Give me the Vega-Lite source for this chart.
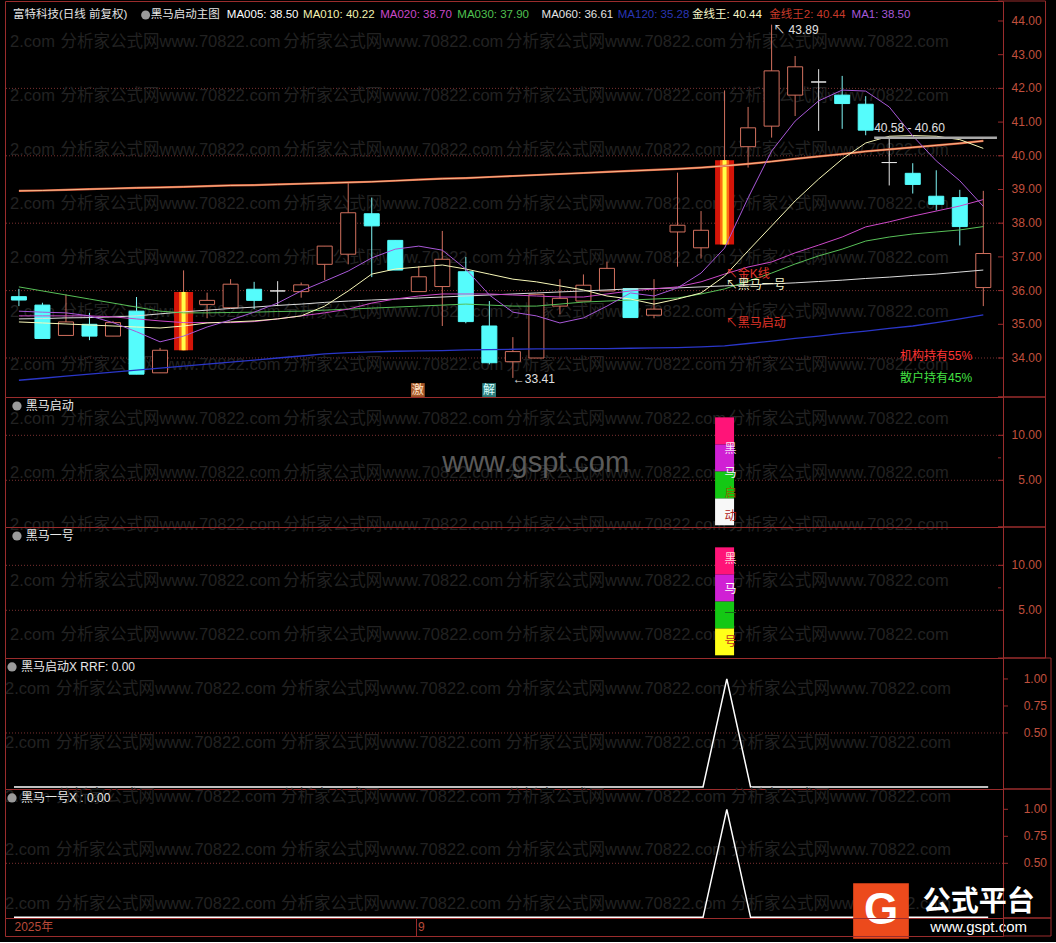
{
"$schema": "https://vega.github.io/schema/vega-lite/v6.json",
"background": "#000000",
"padding": {"left": 4, "top": 0, "right": 4, "bottom": 2},
"spacing": 0,
"bounds": "flush",
"resolve": {"scale": {"x": "independent", "y": "independent"}},
"config": {
  "view": {"stroke": "#9a2c2c", "strokeWidth": 1},
  "text": {"font": "Liberation Sans, Noto Sans CJK SC", "fontSize": 12, "baseline": "middle", "align": "left"}
},
"datasets": {
"k": [
{"i":1,"o":35.82,"h":36.05,"l":35.54,"c":35.72,"t":"down","m5":35.39,"m10":35.07,"m20":35.25,"m30":36.11,"m60":35.16,"m120":33.34,"g":38.96,"s":0},
{"i":2,"o":35.57,"h":35.64,"l":34.58,"c":34.58,"t":"down","m5":35.36,"m10":35.04,"m20":35.25,"m30":35.99,"m60":35.17,"m120":33.40,"g":38.97,"s":0},
{"i":3,"o":34.67,"h":35.89,"l":34.67,"c":35.07,"t":"up","m5":35.34,"m10":35.01,"m20":35.25,"m30":35.87,"m60":35.19,"m120":33.46,"g":38.99,"s":0},
{"i":4,"o":35.00,"h":35.34,"l":34.53,"c":34.65,"t":"down","m5":35.25,"m10":34.98,"m20":35.25,"m30":35.75,"m60":35.20,"m120":33.52,"g":39.01,"s":0},
{"i":5,"o":34.65,"h":35.10,"l":34.65,"c":35.05,"t":"up","m5":35.05,"m10":34.95,"m20":35.22,"m30":35.63,"m60":35.22,"m120":33.58,"g":39.03,"s":0},
{"i":6,"o":35.39,"h":35.81,"l":33.52,"c":33.52,"t":"down","m5":34.78,"m10":34.92,"m20":35.16,"m30":35.51,"m60":35.25,"m120":33.64,"g":39.05,"s":0},
{"i":7,"o":33.56,"h":34.30,"l":33.56,"c":34.23,"t":"up","m5":34.48,"m10":34.89,"m20":35.10,"m30":35.39,"m60":35.31,"m120":33.70,"g":39.06,"s":0},
{"i":8,"o":34.23,"h":36.60,"l":34.23,"c":35.96,"t":"star","m5":34.65,"m10":34.95,"m20":35.05,"m30":35.34,"m60":35.37,"m120":33.76,"g":39.08,"s":0},
{"i":9,"o":35.59,"h":35.94,"l":35.18,"c":35.71,"t":"up","m5":34.92,"m10":35.04,"m20":35.05,"m30":35.34,"m60":35.42,"m120":33.82,"g":39.10,"s":0},
{"i":10,"o":35.49,"h":36.34,"l":35.49,"c":36.19,"t":"up","m5":35.13,"m10":35.07,"m20":35.05,"m30":35.35,"m60":35.47,"m120":33.88,"g":39.12,"s":0},
{"i":11,"o":36.04,"h":36.26,"l":35.45,"c":35.71,"t":"down","m5":35.36,"m10":35.10,"m20":35.08,"m30":35.36,"m60":35.51,"m120":33.94,"g":39.13,"s":0},
{"i":12,"o":35.99,"h":36.28,"l":35.54,"c":35.99,"t":"doji","m5":35.63,"m10":35.16,"m20":35.16,"m30":35.38,"m60":35.56,"m120":34.00,"g":39.15,"s":0},
{"i":13,"o":35.97,"h":36.24,"l":35.79,"c":36.17,"t":"up","m5":35.99,"m10":35.25,"m20":35.25,"m30":35.39,"m60":35.60,"m120":34.06,"g":39.17,"s":0},
{"i":14,"o":36.78,"h":37.32,"l":36.31,"c":37.32,"t":"up","m5":36.28,"m10":35.54,"m20":35.34,"m30":35.42,"m60":35.65,"m120":34.12,"g":39.19,"s":0},
{"i":15,"o":37.08,"h":39.20,"l":36.78,"c":38.31,"t":"up","m5":36.58,"m10":35.99,"m20":35.45,"m30":35.45,"m60":35.69,"m120":34.16,"g":39.21,"s":0},
{"i":16,"o":38.28,"h":38.76,"l":36.40,"c":37.92,"t":"down","m5":36.97,"m10":36.49,"m20":35.63,"m30":35.48,"m60":35.72,"m120":34.18,"g":39.23,"s":0},
{"i":17,"o":37.49,"h":37.49,"l":36.61,"c":36.61,"t":"down","m5":37.23,"m10":36.64,"m20":35.75,"m30":35.51,"m60":35.75,"m120":34.20,"g":39.26,"s":0},
{"i":18,"o":35.97,"h":36.73,"l":35.97,"c":36.41,"t":"up","m5":37.32,"m10":36.70,"m20":35.84,"m30":35.54,"m60":35.78,"m120":34.21,"g":39.29,"s":0},
{"i":19,"o":36.12,"h":37.77,"l":34.95,"c":36.93,"t":"up","m5":37.20,"m10":36.76,"m20":35.90,"m30":35.57,"m60":35.81,"m120":34.22,"g":39.32,"s":0},
{"i":20,"o":36.56,"h":37.00,"l":35.03,"c":35.08,"t":"down","m5":36.64,"m10":36.64,"m20":35.90,"m30":35.60,"m60":35.84,"m120":34.24,"g":39.34,"s":0},
{"i":21,"o":34.95,"h":35.69,"l":33.81,"c":33.86,"t":"down","m5":35.87,"m10":36.49,"m20":35.90,"m30":35.57,"m60":35.87,"m120":34.25,"g":39.37,"s":0},
{"i":22,"o":33.89,"h":34.62,"l":33.41,"c":34.19,"t":"up","m5":35.36,"m10":36.34,"m20":35.87,"m30":35.54,"m60":35.90,"m120":34.26,"g":39.40,"s":0},
{"i":23,"o":34.00,"h":35.89,"l":34.00,"c":35.89,"t":"up","m5":35.25,"m10":36.26,"m20":35.84,"m30":35.54,"m60":35.93,"m120":34.27,"g":39.43,"s":0},
{"i":24,"o":35.54,"h":36.34,"l":35.30,"c":35.77,"t":"up","m5":35.04,"m10":36.14,"m20":35.81,"m30":35.60,"m60":35.96,"m120":34.27,"g":39.46,"s":0},
{"i":25,"o":35.69,"h":36.48,"l":35.69,"c":36.16,"t":"up","m5":35.19,"m10":36.02,"m20":35.81,"m30":35.66,"m60":35.99,"m120":34.28,"g":39.49,"s":0},
{"i":26,"o":35.99,"h":36.86,"l":35.99,"c":36.66,"t":"up","m5":35.54,"m10":35.84,"m20":35.90,"m30":35.69,"m60":36.02,"m120":34.28,"g":39.52,"s":0},
{"i":27,"o":36.06,"h":36.06,"l":35.20,"c":35.20,"t":"down","m5":35.93,"m10":35.75,"m20":35.99,"m30":35.72,"m60":36.05,"m120":34.29,"g":39.55,"s":0},
{"i":28,"o":35.27,"h":36.34,"l":35.18,"c":35.45,"t":"up","m5":35.84,"m10":35.60,"m20":36.05,"m30":35.75,"m60":36.06,"m120":34.30,"g":39.58,"s":0},
{"i":29,"o":37.74,"h":39.50,"l":36.71,"c":37.94,"t":"up","m5":36.08,"m10":35.75,"m20":36.11,"m30":35.78,"m60":36.08,"m120":34.31,"g":39.61,"s":0},
{"i":30,"o":37.27,"h":38.36,"l":36.95,"c":37.79,"t":"up","m5":36.52,"m10":35.93,"m20":36.26,"m30":35.90,"m60":36.11,"m120":34.33,"g":39.65,"s":0},
{"i":31,"o":37.37,"h":41.94,"l":37.37,"c":39.87,"t":"star","m5":37.26,"m10":36.43,"m20":36.49,"m30":36.05,"m60":36.14,"m120":34.36,"g":39.70,"s":1},
{"i":32,"o":40.27,"h":41.45,"l":39.65,"c":40.83,"t":"up","m5":38.75,"m10":37.18,"m20":36.70,"m30":36.28,"m60":36.17,"m120":34.43,"g":39.76,"s":0},
{"i":33,"o":40.88,"h":43.89,"l":40.54,"c":42.52,"t":"up","m5":40.14,"m10":37.92,"m20":36.85,"m30":36.52,"m60":36.20,"m120":34.50,"g":39.83,"s":0},
{"i":34,"o":41.80,"h":42.96,"l":41.18,"c":42.64,"t":"up","m5":41.03,"m10":38.66,"m20":37.12,"m30":36.79,"m60":36.23,"m120":34.58,"g":39.91,"s":0},
{"i":35,"o":42.19,"h":42.57,"l":40.74,"c":42.19,"t":"doji","m5":41.63,"m10":39.31,"m20":37.35,"m30":37.03,"m60":36.27,"m120":34.65,"g":39.98,"s":0},
{"i":36,"o":41.80,"h":42.37,"l":40.80,"c":41.55,"t":"down","m5":41.95,"m10":39.90,"m20":37.59,"m30":37.23,"m60":36.31,"m120":34.73,"g":40.05,"s":0},
{"i":37,"o":41.53,"h":41.77,"l":40.61,"c":40.76,"t":"down","m5":41.92,"m10":40.38,"m20":37.89,"m30":37.47,"m60":36.36,"m120":34.80,"g":40.13,"s":0},
{"i":38,"o":39.80,"h":40.54,"l":39.12,"c":39.80,"t":"doji","m5":41.45,"m10":40.58,"m20":38.04,"m30":37.59,"m60":36.40,"m120":34.88,"g":40.19,"s":0},
{"i":39,"o":39.48,"h":39.78,"l":38.88,"c":39.15,"t":"down","m5":40.59,"m10":40.60,"m20":38.21,"m30":37.68,"m60":36.45,"m120":34.95,"g":40.25,"s":0},
{"i":40,"o":38.80,"h":39.57,"l":38.38,"c":38.56,"t":"down","m5":39.85,"m10":40.58,"m20":38.36,"m30":37.74,"m60":36.49,"m120":35.05,"g":40.31,"s":0},
{"i":41,"o":38.76,"h":38.99,"l":37.34,"c":37.90,"t":"down","m5":39.26,"m10":40.48,"m20":38.51,"m30":37.80,"m60":36.55,"m120":35.16,"g":40.37,"s":0},
{"i":42,"o":36.09,"h":38.96,"l":35.54,"c":37.10,"t":"up","m5":38.50,"m10":40.22,"m20":38.70,"m30":37.90,"m60":36.61,"m120":35.28,"g":40.44,"s":0}
]
},
"vconcat": [
{
 "width": 998, "height": 396,
 "resolve": {"scale": {"color": "independent", "fill": "independent", "stroke": "independent"}},
 "layer": [
  {"data": {"values": [{"v":34},{"v":36},{"v":38},{"v":40},{"v":42}]},
   "mark": {"type": "rule", "color": "#7a3030", "strokeDash": [1,2], "strokeWidth": 1},
   "encoding": {"y": {"field": "v", "type": "quantitative", "scale": {"domain": [32.843,44.593], "nice": false, "zero": false}, "axis": null}}},
  {"data": {"values": [
    {"v":43.376,"i":[0.6212,2.768,12.238,21.708,31.177]},{"v":41.777,"i":[0.6212,2.768,12.238,21.708,31.177]},{"v":40.178,"i":[0.6212,2.768,12.238,21.708,31.177]},{"v":38.578,"i":[0.6212,2.768,12.238,21.708,31.177]},{"v":36.979,"i":[0.6212,2.768,12.238,21.708,31.177]},{"v":35.379,"i":[0.6212,2.768,12.238,21.708,31.177]},{"v":33.780,"i":[0.6212,2.768,12.238,21.708,31.177]}]},
   "transform": [{"flatten": ["i"]}],
   "mark": {"type": "text", "fontSize": 16.5, "color": "#222222"},
   "encoding": {"x": {"field": "i", "type": "quantitative", "axis": null, "scale": {"domain": [0.6212,42.6246], "nice": false, "zero": false}},
    "y": {"field": "v", "type": "quantitative", "scale": {"domain": [32.843,44.593], "nice": false, "zero": false}, "axis": null},
    "text": {"condition": {"test": "datum.i < 1", "value": "2.com"}, "value": "分析家公式网www.70822.com"}}},
  {"data": {"values": [{"a":42.6246,"b":42.835,"v":34},{"a":42.6246,"b":42.835,"v":35},{"a":42.6246,"b":42.835,"v":36},{"a":42.6246,"b":42.835,"v":37},{"a":42.6246,"b":42.835,"v":38},{"a":42.6246,"b":42.835,"v":39},{"a":42.6246,"b":42.835,"v":40},{"a":42.6246,"b":42.835,"v":41},{"a":42.6246,"b":42.835,"v":42},{"a":42.6246,"b":42.835,"v":43},{"a":42.6246,"b":42.835,"v":44}]},
   "mark": {"type": "rule", "color": "#9a2c2c", "strokeWidth": 1},
   "encoding": {"x": {"field": "a", "type": "quantitative", "axis": null, "scale": {"domain": [0.6212,42.6246], "nice": false, "zero": false}}, "x2": {"field": "b"},
    "y": {"field": "v", "type": "quantitative", "scale": {"domain": [32.843,44.593], "nice": false, "zero": false}, "axis": null}}},
  {"data": {"values": [{"a":42.6246,"b":44.645,"y1":44.593,"y2":44.593},{"a":42.6246,"b":44.645,"y1":32.843,"y2":32.843},{"a":44.645,"b":44.645,"y1":32.843,"y2":44.593}]},
   "mark": {"type": "rule", "color": "#9a2c2c", "strokeWidth": 1},
   "encoding": {"x": {"field": "a", "type": "quantitative", "axis": null, "scale": {"domain": [0.6212,42.6246], "nice": false, "zero": false}}, "x2": {"field": "b"},
    "y": {"field": "y1", "type": "quantitative", "scale": {"domain": [32.843,44.593], "nice": false, "zero": false}, "axis": null}, "y2": {"field": "y2"}}},
  {"data": {"values": [{"i":44.477,"v":34,"text":"34.00"},{"i":44.477,"v":35,"text":"35.00"},{"i":44.477,"v":36,"text":"36.00"},{"i":44.477,"v":37,"text":"37.00"},{"i":44.477,"v":38,"text":"38.00"},{"i":44.477,"v":39,"text":"39.00"},{"i":44.477,"v":40,"text":"40.00"},{"i":44.477,"v":41,"text":"41.00"},{"i":44.477,"v":42,"text":"42.00"},{"i":44.477,"v":43,"text":"43.00"},{"i":44.477,"v":44,"text":"44.00"}]},
   "mark": {"type": "text", "align": "right", "font": "Liberation Sans", "fontSize": 12, "color": "#c0503e"},
   "encoding": {"x": {"field": "i", "type": "quantitative", "axis": null, "scale": {"domain": [0.6212,42.6246], "nice": false, "zero": false}},
    "y": {"field": "v", "type": "quantitative", "scale": {"domain": [32.843,44.593], "nice": false, "zero": false}, "axis": null}, "text": {"field": "text"}}},
  {"data": {"name": "k"},
   "mark": {"type": "rule", "strokeWidth": 1},
   "encoding": {"x": {"field": "i", "type": "quantitative", "axis": null, "scale": {"domain": [0.6212,42.6246], "nice": false, "zero": false}},
    "y": {"field": "l", "type": "quantitative", "scale": {"domain": [32.843,44.593], "nice": false, "zero": false}, "axis": null}, "y2": {"field": "h"},
    "color": {"field": "t", "type": "nominal", "scale": {"domain": ["up","down","doji","star"], "range": ["#d2705e","#7ff4f4","#e4e4e4","#d2705e"]}, "legend": null}}},
  {"data": {"name": "k"},
   "transform": [{"filter": "datum.t != 'star'"}],
   "mark": {"type": "bar", "width": 15, "strokeWidth": 1},
   "encoding": {"x": {"field": "i", "type": "quantitative", "axis": null, "scale": {"domain": [0.6212,42.6246], "nice": false, "zero": false}},
    "y": {"field": "o", "type": "quantitative", "stack": null, "scale": {"domain": [32.843,44.593], "nice": false, "zero": false}, "axis": null}, "y2": {"field": "c"},
    "fill": {"field": "t", "type": "nominal", "scale": {"domain": ["up","down","doji"], "range": ["#000000","#55fcfc","#e4e4e4"]}, "legend": null},
    "stroke": {"field": "t", "type": "nominal", "scale": {"domain": ["up","down","doji"], "range": ["#d2705e","#55fcfc","#e4e4e4"]}, "legend": null}}},
  {"data": {"name": "k"},
   "transform": [{"filter": "datum.t == 'star'"}],
   "mark": {"type": "bar", "width": 19, "color": "#d41408"},
   "encoding": {"x": {"field": "i", "type": "quantitative", "axis": null, "scale": {"domain": [0.6212,42.6246], "nice": false, "zero": false}},
    "y": {"field": "o", "type": "quantitative", "stack": null, "scale": {"domain": [32.843,44.593], "nice": false, "zero": false}, "axis": null}, "y2": {"field": "c"}}},
  {"data": {"name": "k"},
   "transform": [{"filter": "datum.t == 'star'"}],
   "mark": {"type": "bar", "width": 9, "color": "#ff6a14"},
   "encoding": {"x": {"field": "i", "type": "quantitative", "axis": null, "scale": {"domain": [0.6212,42.6246], "nice": false, "zero": false}},
    "y": {"field": "o", "type": "quantitative", "stack": null, "scale": {"domain": [32.843,44.593], "nice": false, "zero": false}, "axis": null}, "y2": {"field": "c"}}},
  {"data": {"name": "k"},
   "transform": [{"filter": "datum.t == 'star'"}],
   "mark": {"type": "bar", "width": 4, "color": "#ffff48"},
   "encoding": {"x": {"field": "i", "type": "quantitative", "axis": null, "scale": {"domain": [0.6212,42.6246], "nice": false, "zero": false}},
    "y": {"field": "o", "type": "quantitative", "stack": null, "scale": {"domain": [32.843,44.593], "nice": false, "zero": false}, "axis": null}, "y2": {"field": "c"}}},
  {"data": {"name": "k"}, "mark": {"type": "line", "color": "#2a36c8", "strokeWidth": 1.3},
   "encoding": {"x": {"field": "i", "type": "quantitative", "axis": null, "scale": {"domain": [0.6212,42.6246], "nice": false, "zero": false}},
    "y": {"field": "m120", "type": "quantitative", "scale": {"domain": [32.843,44.593], "nice": false, "zero": false}, "axis": null}}},
  {"data": {"name": "k"}, "mark": {"type": "line", "color": "#d85a3a", "strokeWidth": 2.2},
   "encoding": {"x": {"field": "i", "type": "quantitative", "axis": null, "scale": {"domain": [0.6212,42.6246], "nice": false, "zero": false}},
    "y": {"field": "g", "type": "quantitative", "scale": {"domain": [32.843,44.593], "nice": false, "zero": false}, "axis": null}}},
  {"data": {"name": "k"}, "mark": {"type": "line", "color": "#ffd0a0", "strokeWidth": 0.8},
   "encoding": {"x": {"field": "i", "type": "quantitative", "axis": null, "scale": {"domain": [0.6212,42.6246], "nice": false, "zero": false}},
    "y": {"field": "g", "type": "quantitative", "scale": {"domain": [32.843,44.593], "nice": false, "zero": false}, "axis": null}}},
  {"data": {"name": "k"}, "mark": {"type": "line", "color": "#dcdcdc", "strokeWidth": 1},
   "encoding": {"x": {"field": "i", "type": "quantitative", "axis": null, "scale": {"domain": [0.6212,42.6246], "nice": false, "zero": false}},
    "y": {"field": "m60", "type": "quantitative", "scale": {"domain": [32.843,44.593], "nice": false, "zero": false}, "axis": null}}},
  {"data": {"name": "k"}, "mark": {"type": "line", "color": "#58c058", "strokeWidth": 1},
   "encoding": {"x": {"field": "i", "type": "quantitative", "axis": null, "scale": {"domain": [0.6212,42.6246], "nice": false, "zero": false}},
    "y": {"field": "m30", "type": "quantitative", "scale": {"domain": [32.843,44.593], "nice": false, "zero": false}, "axis": null}}},
  {"data": {"name": "k"}, "mark": {"type": "line", "color": "#cc48c8", "strokeWidth": 1},
   "encoding": {"x": {"field": "i", "type": "quantitative", "axis": null, "scale": {"domain": [0.6212,42.6246], "nice": false, "zero": false}},
    "y": {"field": "m20", "type": "quantitative", "scale": {"domain": [32.843,44.593], "nice": false, "zero": false}, "axis": null}}},
  {"data": {"name": "k"}, "mark": {"type": "line", "color": "#f8f8b8", "strokeWidth": 1},
   "encoding": {"x": {"field": "i", "type": "quantitative", "axis": null, "scale": {"domain": [0.6212,42.6246], "nice": false, "zero": false}},
    "y": {"field": "m10", "type": "quantitative", "scale": {"domain": [32.843,44.593], "nice": false, "zero": false}, "axis": null}}},
  {"data": {"name": "k"}, "mark": {"type": "line", "color": "#a858d8", "strokeWidth": 1},
   "encoding": {"x": {"field": "i", "type": "quantitative", "axis": null, "scale": {"domain": [0.6212,42.6246], "nice": false, "zero": false}},
    "y": {"field": "m5", "type": "quantitative", "scale": {"domain": [32.843,44.593], "nice": false, "zero": false}, "axis": null}}},
  {"data": {"values": [{"a":37.36,"b":42.58,"v":40.537}]},
   "mark": {"type": "rule", "color": "#a8a8a8", "strokeWidth": 2.5},
   "encoding": {"x": {"field": "a", "type": "quantitative", "axis": null, "scale": {"domain": [0.6212,42.6246], "nice": false, "zero": false}}, "x2": {"field": "b"},
    "y": {"field": "v", "type": "quantitative", "scale": {"domain": [32.843,44.593], "nice": false, "zero": false}, "axis": null}}},
  {"data": {"values": [{"i":17.96,"v":33.05,"key":"ji","text":"激"},{"i":20.99,"v":33.05,"key":"jie","text":"解"}]},
   "mark": {"type": "point", "shape": "square", "filled": true, "size": 190, "opacity": 1},
   "encoding": {"x": {"field": "i", "type": "quantitative", "axis": null, "scale": {"domain": [0.6212,42.6246], "nice": false, "zero": false}},
    "y": {"field": "v", "type": "quantitative", "scale": {"domain": [32.843,44.593], "nice": false, "zero": false}, "axis": null},
    "color": {"field": "key", "type": "nominal", "scale": {"domain": ["ji","jie"], "range": ["#a8582a","#2c7c7c"]}, "legend": null}}},
  {"data": {"values": [{"i":17.96,"v":33.05,"key":"ji","text":"激"},{"i":20.99,"v":33.05,"key":"jie","text":"解"}]},
   "mark": {"type": "text", "align": "center", "fontSize": 12},
   "encoding": {"x": {"field": "i", "type": "quantitative", "axis": null, "scale": {"domain": [0.6212,42.6246], "nice": false, "zero": false}},
    "y": {"field": "v", "type": "quantitative", "scale": {"domain": [32.843,44.593], "nice": false, "zero": false}, "axis": null},
    "text": {"field": "text"},
    "color": {"field": "key", "type": "nominal", "scale": {"domain": ["ji","jie"], "range": ["#ffe4c8","#d8ffff"]}, "legend": null}}},
  {"data": {"values": [
    {"i":0.747,"v":44.177,"key":"t0","text":"富特科技(日线 前复权)"},
    {"i":6.60,"v":44.177,"key":"t0","text":"黑马启动主图"},
    {"i":9.84,"v":44.177,"key":"ma5","text":"MA005: 38.50"},
    {"i":13.08,"v":44.177,"key":"ma10","text":"MA010: 40.22"},
    {"i":16.36,"v":44.177,"key":"ma20","text":"MA020: 38.70"},
    {"i":19.64,"v":44.177,"key":"ma30","text":"MA030: 37.90"},
    {"i":23.22,"v":44.177,"key":"ma60","text":"MA060: 36.61"},
    {"i":26.46,"v":44.177,"key":"ma120","text":"MA120: 35.28"},
    {"i":29.62,"v":44.177,"key":"g1","text":"金线王: 40.44"},
    {"i":32.90,"v":44.177,"key":"g2","text":"金线王2: 40.44"},
    {"i":36.40,"v":44.177,"key":"ma1","text":"MA1: 38.50"}
   ]},
   "mark": {"type": "text", "fontSize": 11.5},
   "encoding": {"x": {"field": "i", "type": "quantitative", "axis": null, "scale": {"domain": [0.6212,42.6246], "nice": false, "zero": false}},
    "y": {"field": "v", "type": "quantitative", "scale": {"domain": [32.843,44.593], "nice": false, "zero": false}, "axis": null},
    "text": {"field": "text"},
    "color": {"field": "key", "type": "nominal", "scale": {"domain": ["t0","ma5","ma10","ma20","ma30","ma60","ma120","g1","g2","ma1"], "range": ["#e4e4e4","#ffffff","#f2f2b0","#c848c8","#50c050","#e4e4e4","#2a36b4","#f8f8c8","#c83a2a","#a658d8"]}, "legend": null}}},
  {"data": {"values": [
    {"i":33.07,"v":43.733,"key":"wt","text":"↖ 43.89"},
    {"i":22.0,"v":33.376,"key":"wt","text":"←33.41"},
    {"i":37.36,"v":40.825,"key":"wt","text":"40.58 - 40.60"},
    {"i":31.05,"v":36.49,"key":"red","text":"↖金K线"},
    {"i":31.05,"v":36.166,"key":"wy","text":"↖黑马一号"},
    {"i":31.05,"v":35.038,"key":"red","text":"↖黑马启动"},
    {"i":38.46,"v":34.06,"key":"red2","text":"机构持有55%"},
    {"i":38.46,"v":33.41,"key":"grn","text":"散户持有45%"}
   ]},
   "mark": {"type": "text", "fontSize": 12},
   "encoding": {"x": {"field": "i", "type": "quantitative", "axis": null, "scale": {"domain": [0.6212,42.6246], "nice": false, "zero": false}},
    "y": {"field": "v", "type": "quantitative", "scale": {"domain": [32.843,44.593], "nice": false, "zero": false}, "axis": null},
    "text": {"field": "text"},
    "color": {"field": "key", "type": "nominal", "scale": {"domain": ["wt","red","wy","red2","grn"], "range": ["#e0e0e0","#e0342a","#f4f4cc","#ff3434","#44e044"]}, "legend": null}}},
  {"data": {"values": [{"i":6.387,"v":44.177}]},
   "mark": {"type": "point", "shape": "circle", "filled": true, "size": 80, "color": "#9a9a9a", "opacity": 1},
   "encoding": {"x": {"field": "i", "type": "quantitative", "axis": null, "scale": {"domain": [0.6212,42.6246], "nice": false, "zero": false}},
    "y": {"field": "v", "type": "quantitative", "scale": {"domain": [32.843,44.593], "nice": false, "zero": false}, "axis": null}}}
 ]
},
{
 "width": 998, "height": 130,
 "resolve": {"scale": {"color": "independent"}},
 "layer": [
  {"data": {"values": [{"v":5},{"v":10}]},
   "mark": {"type": "rule", "color": "#7a3030", "strokeDash": [1,2], "strokeWidth": 1},
   "encoding": {"y": {"field": "v", "type": "quantitative", "scale": {"domain": [-0.19,14.26], "nice": false, "zero": false}, "axis": null}}},
  {"data": {"values": [{"v":11.782,"i":[0.6212,2.768,12.238,21.708,31.177]},{"v":5.793,"i":[0.6212,2.768,12.238,21.708,31.177]},{"v":0.038,"i":[0.6212,2.768,12.238,21.708,31.177]}]},
   "transform": [{"flatten": ["i"]}],
   "mark": {"type": "text", "fontSize": 16.5, "color": "#222222"},
   "encoding": {"x": {"field": "i", "type": "quantitative", "axis": null, "scale": {"domain": [0.6212,42.6246], "nice": false, "zero": false}},
    "y": {"field": "v", "type": "quantitative", "scale": {"domain": [-0.19,14.26], "nice": false, "zero": false}, "axis": null},
    "text": {"condition": {"test": "datum.i < 1", "value": "2.com"}, "value": "分析家公式网www.70822.com"}}},
  {"data": {"values": [{"a":42.6246,"b":42.835,"v":5},{"a":42.6246,"b":42.75,"v":7.5},{"a":42.6246,"b":42.835,"v":10}]},
   "mark": {"type": "rule", "color": "#9a2c2c", "strokeWidth": 1},
   "encoding": {"x": {"field": "a", "type": "quantitative", "axis": null, "scale": {"domain": [0.6212,42.6246], "nice": false, "zero": false}}, "x2": {"field": "b"},
    "y": {"field": "v", "type": "quantitative", "scale": {"domain": [-0.19,14.26], "nice": false, "zero": false}, "axis": null}}},
  {"data": {"values": [{"a":42.6246,"b":44.645,"y1":14.26,"y2":14.26},{"a":42.6246,"b":44.645,"y1":-0.19,"y2":-0.19},{"a":44.645,"b":44.645,"y1":-0.19,"y2":14.26}]},
   "mark": {"type": "rule", "color": "#9a2c2c", "strokeWidth": 1},
   "encoding": {"x": {"field": "a", "type": "quantitative", "axis": null, "scale": {"domain": [0.6212,42.6246], "nice": false, "zero": false}}, "x2": {"field": "b"},
    "y": {"field": "y1", "type": "quantitative", "scale": {"domain": [-0.19,14.26], "nice": false, "zero": false}, "axis": null}, "y2": {"field": "y2"}}},
  {"data": {"values": [{"i":44.477,"v":5,"text":"5.00"},{"i":44.477,"v":10,"text":"10.00"}]},
   "mark": {"type": "text", "align": "right", "font": "Liberation Sans", "fontSize": 12, "color": "#c0503e"},
   "encoding": {"x": {"field": "i", "type": "quantitative", "axis": null, "scale": {"domain": [0.6212,42.6246], "nice": false, "zero": false}},
    "y": {"field": "v", "type": "quantitative", "scale": {"domain": [-0.19,14.26], "nice": false, "zero": false}, "axis": null}, "text": {"field": "text"}}},
  {"data": {"values": [{"i":22.97,"v":6.92,"text":"www.gspt.com"}]},
   "mark": {"type": "text", "align": "center", "fontSize": 29, "color": "#5a5a5a", "font": "Liberation Sans"},
   "encoding": {"x": {"field": "i", "type": "quantitative", "axis": null, "scale": {"domain": [0.6212,42.6246], "nice": false, "zero": false}},
    "y": {"field": "v", "type": "quantitative", "scale": {"domain": [-0.19,14.26], "nice": false, "zero": false}, "axis": null}, "text": {"field": "text"}}},
  {"data": {"values": [{"i":31,"a":0,"b":3,"key":"white"},{"i":31,"a":3,"b":6,"key":"green"},{"i":31,"a":6,"b":9,"key":"mag"},{"i":31,"a":9,"b":12,"key":"pink"}]},
   "mark": {"type": "bar", "width": 19},
   "encoding": {"x": {"field": "i", "type": "quantitative", "axis": null, "scale": {"domain": [0.6212,42.6246], "nice": false, "zero": false}},
    "y": {"field": "a", "type": "quantitative", "stack": null, "scale": {"domain": [-0.19,14.26], "nice": false, "zero": false}, "axis": null}, "y2": {"field": "b"},
    "color": {"field": "key", "type": "nominal", "scale": {"domain": ["white","green","mag","pink"], "range": ["#f8f8f8","#14c814","#d020d4","#ff1478"]}, "legend": null}}},
  {"data": {"values": [{"i":31,"v":8.44,"text":"黑","key":"a"},{"i":31,"v":5.84,"text":"马","key":"b"},{"i":31,"v":3.55,"text":"启","key":"c"},{"i":31,"v":1.03,"text":"动","key":"d"}]},
   "mark": {"type": "text", "fontSize": 12},
   "encoding": {"x": {"field": "i", "type": "quantitative", "axis": null, "scale": {"domain": [0.6212,42.6246], "nice": false, "zero": false}},
    "y": {"field": "v", "type": "quantitative", "scale": {"domain": [-0.19,14.26], "nice": false, "zero": false}, "axis": null}, "text": {"field": "text"},
    "color": {"field": "key", "type": "nominal", "scale": {"domain": ["a","b","c","d"], "range": ["#f8e0f8","#f4f4f4","#8a6a00","#b02020"]}, "legend": null}}},
  {"data": {"values": [{"i":0.916,"v":13.26}]},
   "mark": {"type": "point", "shape": "circle", "filled": true, "size": 85, "color": "#9a9a9a", "opacity": 1},
   "encoding": {"x": {"field": "i", "type": "quantitative", "axis": null, "scale": {"domain": [0.6212,42.6246], "nice": false, "zero": false}},
    "y": {"field": "v", "type": "quantitative", "scale": {"domain": [-0.19,14.26], "nice": false, "zero": false}, "axis": null}}},
  {"data": {"values": [{"i":1.294,"v":13.26,"text":"黑马启动"}]},
   "mark": {"type": "text", "color": "#e8e8e8"},
   "encoding": {"x": {"field": "i", "type": "quantitative", "axis": null, "scale": {"domain": [0.6212,42.6246], "nice": false, "zero": false}},
    "y": {"field": "v", "type": "quantitative", "scale": {"domain": [-0.19,14.26], "nice": false, "zero": false}, "axis": null}, "text": {"field": "text"}}}
 ]
},
{
 "width": 998, "height": 131,
 "resolve": {"scale": {"color": "independent"}},
 "layer": [
  {"data": {"values": [{"v":5},{"v":10}]},
   "mark": {"type": "rule", "color": "#7a3030", "strokeDash": [1,2], "strokeWidth": 1},
   "encoding": {"y": {"field": "v", "type": "quantitative", "scale": {"domain": [-0.3,14.26], "nice": false, "zero": false}, "axis": null}}},
  {"data": {"values": [{"v":8.26,"i":[0.6212,2.768,12.238,21.708,31.177]},{"v":2.271,"i":[0.6212,2.768,12.238,21.708,31.177]}]},
   "transform": [{"flatten": ["i"]}],
   "mark": {"type": "text", "fontSize": 16.5, "color": "#222222"},
   "encoding": {"x": {"field": "i", "type": "quantitative", "axis": null, "scale": {"domain": [0.6212,42.6246], "nice": false, "zero": false}},
    "y": {"field": "v", "type": "quantitative", "scale": {"domain": [-0.3,14.26], "nice": false, "zero": false}, "axis": null},
    "text": {"condition": {"test": "datum.i < 1", "value": "2.com"}, "value": "分析家公式网www.70822.com"}}},
  {"data": {"values": [{"a":42.6246,"b":42.835,"v":5},{"a":42.6246,"b":42.75,"v":7.5},{"a":42.6246,"b":42.835,"v":10}]},
   "mark": {"type": "rule", "color": "#9a2c2c", "strokeWidth": 1},
   "encoding": {"x": {"field": "a", "type": "quantitative", "axis": null, "scale": {"domain": [0.6212,42.6246], "nice": false, "zero": false}}, "x2": {"field": "b"},
    "y": {"field": "v", "type": "quantitative", "scale": {"domain": [-0.3,14.26], "nice": false, "zero": false}, "axis": null}}},
  {"data": {"values": [{"a":42.6246,"b":44.645,"y1":14.26,"y2":14.26},{"a":42.6246,"b":44.645,"y1":-0.3,"y2":-0.3},{"a":44.645,"b":44.645,"y1":-0.3,"y2":14.26}]},
   "mark": {"type": "rule", "color": "#9a2c2c", "strokeWidth": 1},
   "encoding": {"x": {"field": "a", "type": "quantitative", "axis": null, "scale": {"domain": [0.6212,42.6246], "nice": false, "zero": false}}, "x2": {"field": "b"},
    "y": {"field": "y1", "type": "quantitative", "scale": {"domain": [-0.3,14.26], "nice": false, "zero": false}, "axis": null}, "y2": {"field": "y2"}}},
  {"data": {"values": [{"i":44.477,"v":5,"text":"5.00"},{"i":44.477,"v":10,"text":"10.00"}]},
   "mark": {"type": "text", "align": "right", "font": "Liberation Sans", "fontSize": 12, "color": "#c0503e"},
   "encoding": {"x": {"field": "i", "type": "quantitative", "axis": null, "scale": {"domain": [0.6212,42.6246], "nice": false, "zero": false}},
    "y": {"field": "v", "type": "quantitative", "scale": {"domain": [-0.3,14.26], "nice": false, "zero": false}, "axis": null}, "text": {"field": "text"}}},
  {"data": {"values": [{"i":31,"a":0,"b":3,"key":"yellow"},{"i":31,"a":3,"b":6,"key":"green"},{"i":31,"a":6,"b":9,"key":"mag"},{"i":31,"a":9,"b":12,"key":"pink"}]},
   "mark": {"type": "bar", "width": 19},
   "encoding": {"x": {"field": "i", "type": "quantitative", "axis": null, "scale": {"domain": [0.6212,42.6246], "nice": false, "zero": false}},
    "y": {"field": "a", "type": "quantitative", "stack": null, "scale": {"domain": [-0.3,14.26], "nice": false, "zero": false}, "axis": null}, "y2": {"field": "b"},
    "color": {"field": "key", "type": "nominal", "scale": {"domain": ["yellow","green","mag","pink"], "range": ["#ffff18","#14c814","#d020d4","#ff1478"]}, "legend": null}}},
  {"data": {"values": [{"i":31,"v":10.7,"text":"黑","key":"a"},{"i":31,"v":7.37,"text":"马","key":"b"},{"i":31,"v":4.59,"text":"一","key":"c"},{"i":31,"v":1.48,"text":"号","key":"d"}]},
   "mark": {"type": "text", "fontSize": 12},
   "encoding": {"x": {"field": "i", "type": "quantitative", "axis": null, "scale": {"domain": [0.6212,42.6246], "nice": false, "zero": false}},
    "y": {"field": "v", "type": "quantitative", "scale": {"domain": [-0.3,14.26], "nice": false, "zero": false}, "axis": null}, "text": {"field": "text"},
    "color": {"field": "key", "type": "nominal", "scale": {"domain": ["a","b","c","d"], "range": ["#ffd8d8","#ffffff","#1a6a1a","#c03020"]}, "legend": null}}},
  {"data": {"values": [{"i":0.916,"v":13.26}]},
   "mark": {"type": "point", "shape": "circle", "filled": true, "size": 85, "color": "#9a9a9a", "opacity": 1},
   "encoding": {"x": {"field": "i", "type": "quantitative", "axis": null, "scale": {"domain": [0.6212,42.6246], "nice": false, "zero": false}},
    "y": {"field": "v", "type": "quantitative", "scale": {"domain": [-0.3,14.26], "nice": false, "zero": false}, "axis": null}}},
  {"data": {"values": [{"i":1.294,"v":13.26,"text":"黑马一号"}]},
   "mark": {"type": "text", "color": "#e8e8e8"},
   "encoding": {"x": {"field": "i", "type": "quantitative", "axis": null, "scale": {"domain": [0.6212,42.6246], "nice": false, "zero": false}},
    "y": {"field": "v", "type": "quantitative", "scale": {"domain": [-0.3,14.26], "nice": false, "zero": false}, "axis": null}, "text": {"field": "text"}}}
 ]
},
{
 "width": 998, "height": 131,
 "layer": [
  {"data": {"values": [{"v":0.5}]},
   "mark": {"type": "rule", "color": "#7a3030", "strokeDash": [1,2], "strokeWidth": 1},
   "encoding": {"y": {"field": "v", "type": "quantitative", "scale": {"domain": [-0.0185,1.194], "nice": false, "zero": false}, "axis": null}}},
  {"data": {"values": [{"v":0.909,"i":[0.6212,2.768,12.238,21.708,31.177]},{"v":0.410,"i":[0.6212,2.768,12.238,21.708,31.177]}]},
   "transform": [{"flatten": ["i"]}],
   "mark": {"type": "text", "fontSize": 16.5, "color": "#222222"},
   "encoding": {"x": {"field": "i", "type": "quantitative", "axis": null, "scale": {"domain": [0.6212,42.6246], "nice": false, "zero": false}},
    "y": {"field": "v", "type": "quantitative", "scale": {"domain": [-0.0185,1.194], "nice": false, "zero": false}, "axis": null},
    "text": {"condition": {"test": "datum.i < 1", "value": "2.com"}, "value": "分析家公式网www.70822.com"}}},
  {"data": {"values": [{"a":42.6246,"b":42.835,"v":0.5},{"a":42.6246,"b":42.835,"v":0.75},{"a":42.6246,"b":42.835,"v":1}]},
   "mark": {"type": "rule", "color": "#9a2c2c", "strokeWidth": 1},
   "encoding": {"x": {"field": "a", "type": "quantitative", "axis": null, "scale": {"domain": [0.6212,42.6246], "nice": false, "zero": false}}, "x2": {"field": "b"},
    "y": {"field": "v", "type": "quantitative", "scale": {"domain": [-0.0185,1.194], "nice": false, "zero": false}, "axis": null}}},
  {"data": {"values": [{"a":42.6246,"b":44.645,"y1":1.194,"y2":1.194},{"a":42.6246,"b":44.645,"y1":-0.0185,"y2":-0.0185},{"a":44.645,"b":44.645,"y1":-0.0185,"y2":1.194}]},
   "mark": {"type": "rule", "color": "#9a2c2c", "strokeWidth": 1},
   "encoding": {"x": {"field": "a", "type": "quantitative", "axis": null, "scale": {"domain": [0.6212,42.6246], "nice": false, "zero": false}}, "x2": {"field": "b"},
    "y": {"field": "y1", "type": "quantitative", "scale": {"domain": [-0.0185,1.194], "nice": false, "zero": false}, "axis": null}, "y2": {"field": "y2"}}},
  {"data": {"values": [{"i":44.477,"v":0.5,"text":"0.50"},{"i":44.477,"v":0.75,"text":"0.75"},{"i":44.477,"v":1,"text":"1.00"}]},
   "mark": {"type": "text", "align": "right", "font": "Liberation Sans", "fontSize": 12, "color": "#c0503e"},
   "encoding": {"x": {"field": "i", "type": "quantitative", "axis": null, "scale": {"domain": [0.6212,42.6246], "nice": false, "zero": false}},
    "y": {"field": "v", "type": "quantitative", "scale": {"domain": [-0.0185,1.194], "nice": false, "zero": false}, "axis": null}, "text": {"field": "text"}}},
  {"data": {"name": "k"}, "mark": {"type": "line", "color": "#ffffff", "strokeWidth": 1.5},
   "encoding": {"x": {"field": "i", "type": "quantitative", "axis": null, "scale": {"domain": [0.6212,42.6246], "nice": false, "zero": false}},
    "y": {"field": "s", "type": "quantitative", "scale": {"domain": [-0.0185,1.194], "nice": false, "zero": false}, "axis": null}}},
  {"data": {"values": [{"i":0.916,"v":1.111}]},
   "mark": {"type": "point", "shape": "circle", "filled": true, "size": 85, "color": "#9a9a9a", "opacity": 1},
   "encoding": {"x": {"field": "i", "type": "quantitative", "axis": null, "scale": {"domain": [0.6212,42.6246], "nice": false, "zero": false}},
    "y": {"field": "v", "type": "quantitative", "scale": {"domain": [-0.0185,1.194], "nice": false, "zero": false}, "axis": null}}},
  {"data": {"values": [{"i":1.294,"v":1.111,"text":"黑马启动X RRF: 0.00"}]},
   "mark": {"type": "text", "color": "#e8e8e8"},
   "encoding": {"x": {"field": "i", "type": "quantitative", "axis": null, "scale": {"domain": [0.6212,42.6246], "nice": false, "zero": false}},
    "y": {"field": "v", "type": "quantitative", "scale": {"domain": [-0.0185,1.194], "nice": false, "zero": false}, "axis": null}, "text": {"field": "text"}}}
 ]
},
{
 "width": 998, "height": 129,
 "layer": [
  {"data": {"values": [{"v":0.5}]},
   "mark": {"type": "rule", "color": "#7a3030", "strokeDash": [1,2], "strokeWidth": 1},
   "encoding": {"y": {"field": "v", "type": "quantitative", "scale": {"domain": [-0.0065,1.188], "nice": false, "zero": false}, "axis": null}}},
  {"data": {"values": [{"v":1.118,"i":[0.6212,2.768,12.238,21.708,31.177]},{"v":0.619,"i":[0.6212,2.768,12.238,21.708,31.177]},{"v":0.120,"i":[0.6212,2.768,12.238,21.708,31.177]}]},
   "transform": [{"flatten": ["i"]}],
   "mark": {"type": "text", "fontSize": 16.5, "color": "#222222"},
   "encoding": {"x": {"field": "i", "type": "quantitative", "axis": null, "scale": {"domain": [0.6212,42.6246], "nice": false, "zero": false}},
    "y": {"field": "v", "type": "quantitative", "scale": {"domain": [-0.0065,1.188], "nice": false, "zero": false}, "axis": null},
    "text": {"condition": {"test": "datum.i < 1", "value": "2.com"}, "value": "分析家公式网www.70822.com"}}},
  {"data": {"values": [{"a":42.6246,"b":42.835,"v":0.5},{"a":42.6246,"b":42.835,"v":0.75},{"a":42.6246,"b":42.835,"v":1}]},
   "mark": {"type": "rule", "color": "#9a2c2c", "strokeWidth": 1},
   "encoding": {"x": {"field": "a", "type": "quantitative", "axis": null, "scale": {"domain": [0.6212,42.6246], "nice": false, "zero": false}}, "x2": {"field": "b"},
    "y": {"field": "v", "type": "quantitative", "scale": {"domain": [-0.0065,1.188], "nice": false, "zero": false}, "axis": null}}},
  {"data": {"values": [{"a":42.6246,"b":44.645,"y1":1.188,"y2":1.188},{"a":42.6246,"b":44.645,"y1":-0.0065,"y2":-0.0065},{"a":44.645,"b":44.645,"y1":-0.0065,"y2":1.188}]},
   "mark": {"type": "rule", "color": "#9a2c2c", "strokeWidth": 1},
   "encoding": {"x": {"field": "a", "type": "quantitative", "axis": null, "scale": {"domain": [0.6212,42.6246], "nice": false, "zero": false}}, "x2": {"field": "b"},
    "y": {"field": "y1", "type": "quantitative", "scale": {"domain": [-0.0065,1.188], "nice": false, "zero": false}, "axis": null}, "y2": {"field": "y2"}}},
  {"data": {"values": [{"i":44.477,"v":0.5,"text":"0.50"},{"i":44.477,"v":0.75,"text":"0.75"},{"i":44.477,"v":1,"text":"1.00"}]},
   "mark": {"type": "text", "align": "right", "font": "Liberation Sans", "fontSize": 12, "color": "#c0503e"},
   "encoding": {"x": {"field": "i", "type": "quantitative", "axis": null, "scale": {"domain": [0.6212,42.6246], "nice": false, "zero": false}},
    "y": {"field": "v", "type": "quantitative", "scale": {"domain": [-0.0065,1.188], "nice": false, "zero": false}, "axis": null}, "text": {"field": "text"}}},
  {"data": {"name": "k"}, "mark": {"type": "line", "color": "#ffffff", "strokeWidth": 1.5},
   "encoding": {"x": {"field": "i", "type": "quantitative", "axis": null, "scale": {"domain": [0.6212,42.6246], "nice": false, "zero": false}},
    "y": {"field": "s", "type": "quantitative", "scale": {"domain": [-0.0065,1.188], "nice": false, "zero": false}, "axis": null}}},
  {"data": {"values": [{"i":0.916,"v":1.105}]},
   "mark": {"type": "point", "shape": "circle", "filled": true, "size": 85, "color": "#9a9a9a", "opacity": 1},
   "encoding": {"x": {"field": "i", "type": "quantitative", "axis": null, "scale": {"domain": [0.6212,42.6246], "nice": false, "zero": false}},
    "y": {"field": "v", "type": "quantitative", "scale": {"domain": [-0.0065,1.188], "nice": false, "zero": false}, "axis": null}}},
  {"data": {"values": [{"i":1.294,"v":1.105,"text":"黑马一号X : 0.00"}]},
   "mark": {"type": "text", "color": "#e8e8e8"},
   "encoding": {"x": {"field": "i", "type": "quantitative", "axis": null, "scale": {"domain": [0.6212,42.6246], "nice": false, "zero": false}},
    "y": {"field": "v", "type": "quantitative", "scale": {"domain": [-0.0065,1.188], "nice": false, "zero": false}, "axis": null}, "text": {"field": "text"}}},
  {"data": {"values": [{"i":37.49,"v":0.058}]},
   "mark": {"type": "point", "shape": "square", "filled": true, "size": 3100, "color": "#ec4a1c", "opacity": 1},
   "encoding": {"x": {"field": "i", "type": "quantitative", "axis": null, "scale": {"domain": [0.6212,42.6246], "nice": false, "zero": false}},
    "y": {"field": "v", "type": "quantitative", "scale": {"domain": [-0.0065,1.188], "nice": false, "zero": false}, "axis": null}}},
  {"data": {"values": [{"i":37.49,"v":0.058,"text":"G"}]},
   "mark": {"type": "text", "align": "center", "fontSize": 44, "fontWeight": "bold", "color": "#ffffff", "font": "Liberation Sans"},
   "encoding": {"x": {"field": "i", "type": "quantitative", "axis": null, "scale": {"domain": [0.6212,42.6246], "nice": false, "zero": false}},
    "y": {"field": "v", "type": "quantitative", "scale": {"domain": [-0.0065,1.188], "nice": false, "zero": false}, "axis": null}, "text": {"field": "text"}}},
  {"data": {"values": [{"i":41.6,"v":0.132,"text":"公式平台"}]},
   "mark": {"type": "text", "align": "center", "fontSize": 28, "fontWeight": "bold", "color": "#ffffff", "font": "Noto Sans CJK SC"},
   "encoding": {"x": {"field": "i", "type": "quantitative", "axis": null, "scale": {"domain": [0.6212,42.6246], "nice": false, "zero": false}},
    "y": {"field": "v", "type": "quantitative", "scale": {"domain": [-0.0065,1.188], "nice": false, "zero": false}, "axis": null}, "text": {"field": "text"}}},
  {"data": {"values": [{"i":41.6,"v":-0.09,"text":"www.gspt.com"}]},
   "mark": {"type": "text", "align": "center", "fontSize": 15, "color": "#ffffff", "font": "Liberation Sans"},
   "encoding": {"x": {"field": "i", "type": "quantitative", "axis": null, "scale": {"domain": [0.6212,42.6246], "nice": false, "zero": false}},
    "y": {"field": "v", "type": "quantitative", "scale": {"domain": [-0.0065,1.188], "nice": false, "zero": false}, "axis": null}, "text": {"field": "text"}}}
 ]
},
{
 "width": 998, "height": 18,
 "layer": [
  {"data": {"values": [{"i":17.94}]},
   "mark": {"type": "rule", "color": "#9a2c2c", "strokeWidth": 1},
   "encoding": {"x": {"field": "i", "type": "quantitative", "axis": null, "scale": {"domain": [0.6212,42.6246], "nice": false, "zero": false}},
    "y": {"datum": 0, "type": "quantitative", "scale": {"domain": [0,1], "nice": false, "zero": false}, "axis": null}, "y2": {"datum": 1}}},
  {"data": {"values": [{"a":42.6246,"b":44.645,"y1":1,"y2":1},{"a":42.6246,"b":44.645,"y1":0,"y2":0},{"a":44.645,"b":44.645,"y1":0,"y2":1}]},
   "mark": {"type": "rule", "color": "#9a2c2c", "strokeWidth": 1},
   "encoding": {"x": {"field": "a", "type": "quantitative", "axis": null, "scale": {"domain": [0.6212,42.6246], "nice": false, "zero": false}}, "x2": {"field": "b"},
    "y": {"field": "y1", "type": "quantitative", "scale": {"domain": [0,1], "nice": false, "zero": false}, "axis": null}, "y2": {"field": "y2"}}},
  {"data": {"values": [{"i":1.02,"v":0.5,"text":"2025年"},{"i":18.0,"v":0.5,"text":"9"}]},
   "mark": {"type": "text", "color": "#b84a3a"},
   "encoding": {"x": {"field": "i", "type": "quantitative", "axis": null, "scale": {"domain": [0.6212,42.6246], "nice": false, "zero": false}},
    "y": {"field": "v", "type": "quantitative", "scale": {"domain": [0,1], "nice": false, "zero": false}, "axis": null}, "text": {"field": "text"}}}
 ]
}
]
}
